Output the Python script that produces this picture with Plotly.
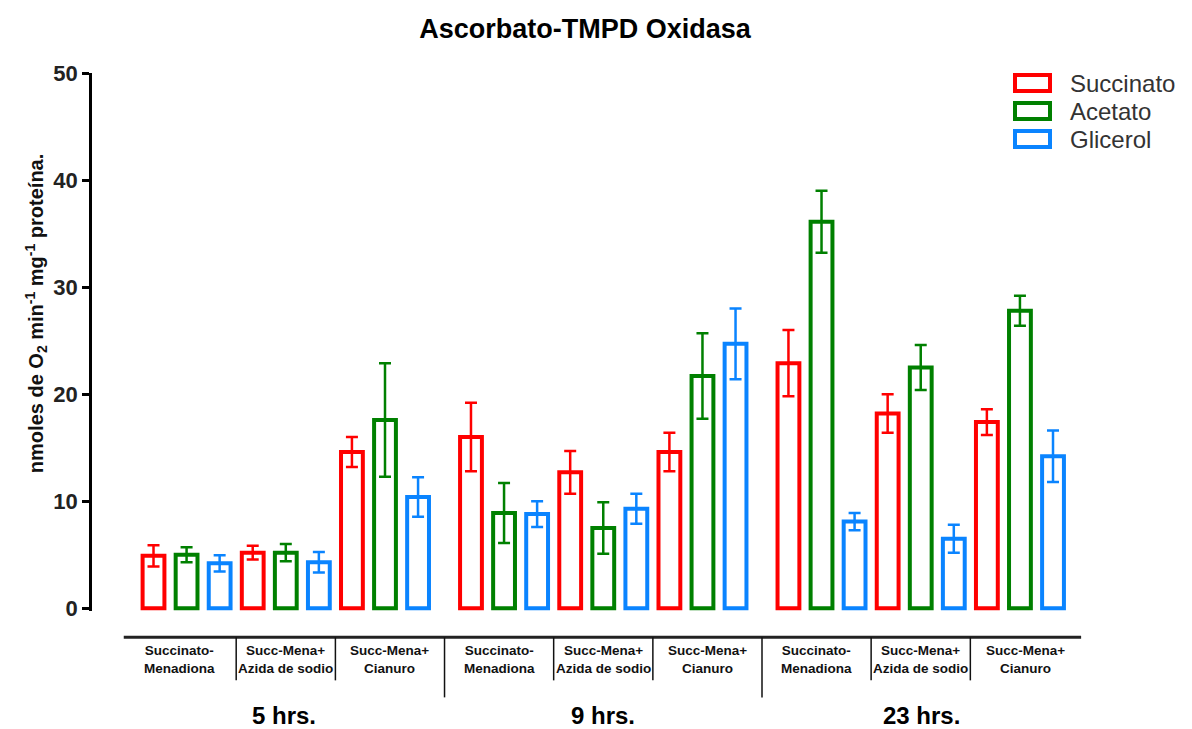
import plotly.graph_objects as go

# ---------------- data ----------------
groups = ["5 hrs.", "9 hrs.", "23 hrs."]
conditions = ["Succinato-<br>Menadiona", "Succ-Mena+<br>Azida de sodio", "Succ-Mena+<br>Cianuro"]
series = ["Succinato", "Acetato", "Glicerol"]
colors = ["#FF0000", "#008000", "#0A84FF"]
y_title = "nmoles de O<sub>2</sub> min<sup>-1</sup> mg<sup>-1</sup> proteína."

# values in order: (5h: SM, Azida, Cianuro), (9h: ...), (23h: ...)
succinato = [4.9, 5.2, 14.6, 16.0, 12.7, 14.6, 22.9, 18.2, 17.4]
succinato_err = [1.0, 0.65, 1.4, 3.2, 2.0, 1.8, 3.1, 1.8, 1.2]
acetato = [5.0, 5.2, 17.6, 8.9, 7.5, 21.7, 36.1, 22.5, 27.8]
acetato_err = [0.7, 0.8, 5.3, 2.8, 2.4, 4.0, 2.9, 2.1, 1.4]
glicerol = [4.2, 4.3, 10.4, 8.8, 9.3, 24.7, 8.1, 6.5, 14.2]
glicerol_err = [0.75, 0.95, 1.85, 1.2, 1.4, 3.3, 0.8, 1.3, 2.4]

values = [succinato, acetato, glicerol]
errors = [succinato_err, acetato_err, glicerol_err]

# ---------------- layout helpers ----------------
W, H = 1192, 729
M_L, M_R, M_T = 92, 20, 73
Y_MIN, Y_MAX = -0.25, 50
PX_PER_UNIT_Y = 10.7
PLOT_H = (Y_MAX - Y_MIN) * PX_PER_UNIT_Y
M_B = H - M_T - PLOT_H
PLOT_BOTTOM = M_T + PLOT_H
PLOT_W = W - M_L - M_R
GROUP_GAP = 0.6
X_MIN = -1.86
X_MAX = X_MIN + PLOT_W / 33.07


def pos(g, c, s):
    return g * (9 + GROUP_GAP) + c * 3 + s


def py(Y):
    return (PLOT_BOTTOM - Y) / PLOT_H


def px(X):
    return (X - M_L) / PLOT_W


FONT = "Arial, Liberation Sans, Helvetica, sans-serif"

fig = go.Figure()
for s, name in enumerate(series):
    xs = [pos(g, c, s) for g in range(3) for c in range(3)]
    fig.add_trace(go.Bar(
        x=xs, y=values[s], name=name, width=0.66, showlegend=False,
        marker=dict(color="white", line=dict(color=colors[s], width=4)),
        error_y=dict(type="data", array=errors[s], symmetric=True,
                     color=colors[s], thickness=2.5, width=6),
    ))

shapes = []
annotations = []
line_y = py(637)
x_start = pos(0, 0, 0) - 0.9
x_end = pos(2, 2, 2) + 0.85
shapes.append(dict(type="line", xref="x", yref="paper", x0=x_start, x1=x_end,
                   y0=line_y, y1=line_y, line=dict(color="#222222", width=3)))

for g in range(3):
    left = x_start if g == 0 else (pos(g - 1, 2, 2) + pos(g, 0, 0)) / 2
    right = x_end if g == 2 else (pos(g, 2, 2) + pos(g + 1, 0, 0)) / 2
    cb = [left, pos(g, 0, 2) + 0.5, pos(g, 1, 2) + 0.5, right]
    for c in range(3):
        annotations.append(dict(
            x=(cb[c] + cb[c + 1]) / 2, y=py(659), xref="x", yref="paper",
            text=conditions[c], showarrow=False, align="center",
            font=dict(family=FONT, size=13.5, color="#111111", weight="bold"),
            xanchor="center", yanchor="middle"))
    for b in cb[1:3]:
        shapes.append(dict(type="line", xref="x", yref="paper", x0=b, x1=b,
                           y0=line_y, y1=py(680), line=dict(color="#111111", width=1.5)))
    if g < 2:
        shapes.append(dict(type="line", xref="x", yref="paper", x0=right, x1=right,
                           y0=line_y, y1=py(697), line=dict(color="#111111", width=1.5)))
    annotations.append(dict(
        x=(left + right) / 2, y=py(715), xref="x", yref="paper",
        text=groups[g], showarrow=False,
        font=dict(family=FONT, size=24, color="#000000", weight="bold"),
        xanchor="center", yanchor="middle"))

# y-axis title as rotated annotation (placed like the reference, above centre)
annotations.append(dict(x=px(36), y=py(314), xref="paper", yref="paper",
                        text=y_title, showarrow=False, textangle=-90,
                        xanchor="center", yanchor="middle",
                        font=dict(family=FONT, size=20, color="#111111", weight="bold")))

# manual legend (outlined swatches like the reference)
legend_centers = [83, 111, 139]
for s, name in enumerate(series):
    cy = legend_centers[s]
    shapes.append(dict(type="rect", xref="paper", yref="paper",
                       x0=px(1015), x1=px(1050), y0=py(cy + 8), y1=py(cy - 8),
                       line=dict(color=colors[s], width=4), fillcolor="white"))
    annotations.append(dict(x=px(1068), y=py(cy), xref="paper", yref="paper",
                            text=name, showarrow=False, xanchor="left", yanchor="middle",
                            font=dict(family=FONT, size=24, color="#333333")))

fig.update_layout(
    width=W, height=H,
    margin=dict(l=M_L, r=M_R, t=M_T, b=M_B),
    paper_bgcolor="white", plot_bgcolor="white",
    barmode="overlay",
    title=dict(text="Ascorbato-TMPD Oxidasa", x=585 / W, xref="container",
               y=1 - 29 / H, yref="container", xanchor="center", yanchor="middle",
               font=dict(family=FONT, size=27, color="#000000", weight="bold")),
    xaxis=dict(range=[X_MIN, X_MAX], visible=False, showgrid=False, zeroline=False),
    yaxis=dict(range=[Y_MIN, Y_MAX], tickvals=[0, 10, 20, 30, 40, 50],
               ticks="outside", ticklen=7, tickwidth=2.5, tickcolor="#000000",
               showline=True, linewidth=2.5, linecolor="#000000",
               showgrid=False, zeroline=False,
               tickfont=dict(family=FONT, size=22, color="#222222", weight="bold")),
    shapes=shapes, annotations=annotations,
    showlegend=False,
)

fig.write_html("out.html", config={"displayModeBar": False},
               post_script="document.body.style.margin='0px';")
